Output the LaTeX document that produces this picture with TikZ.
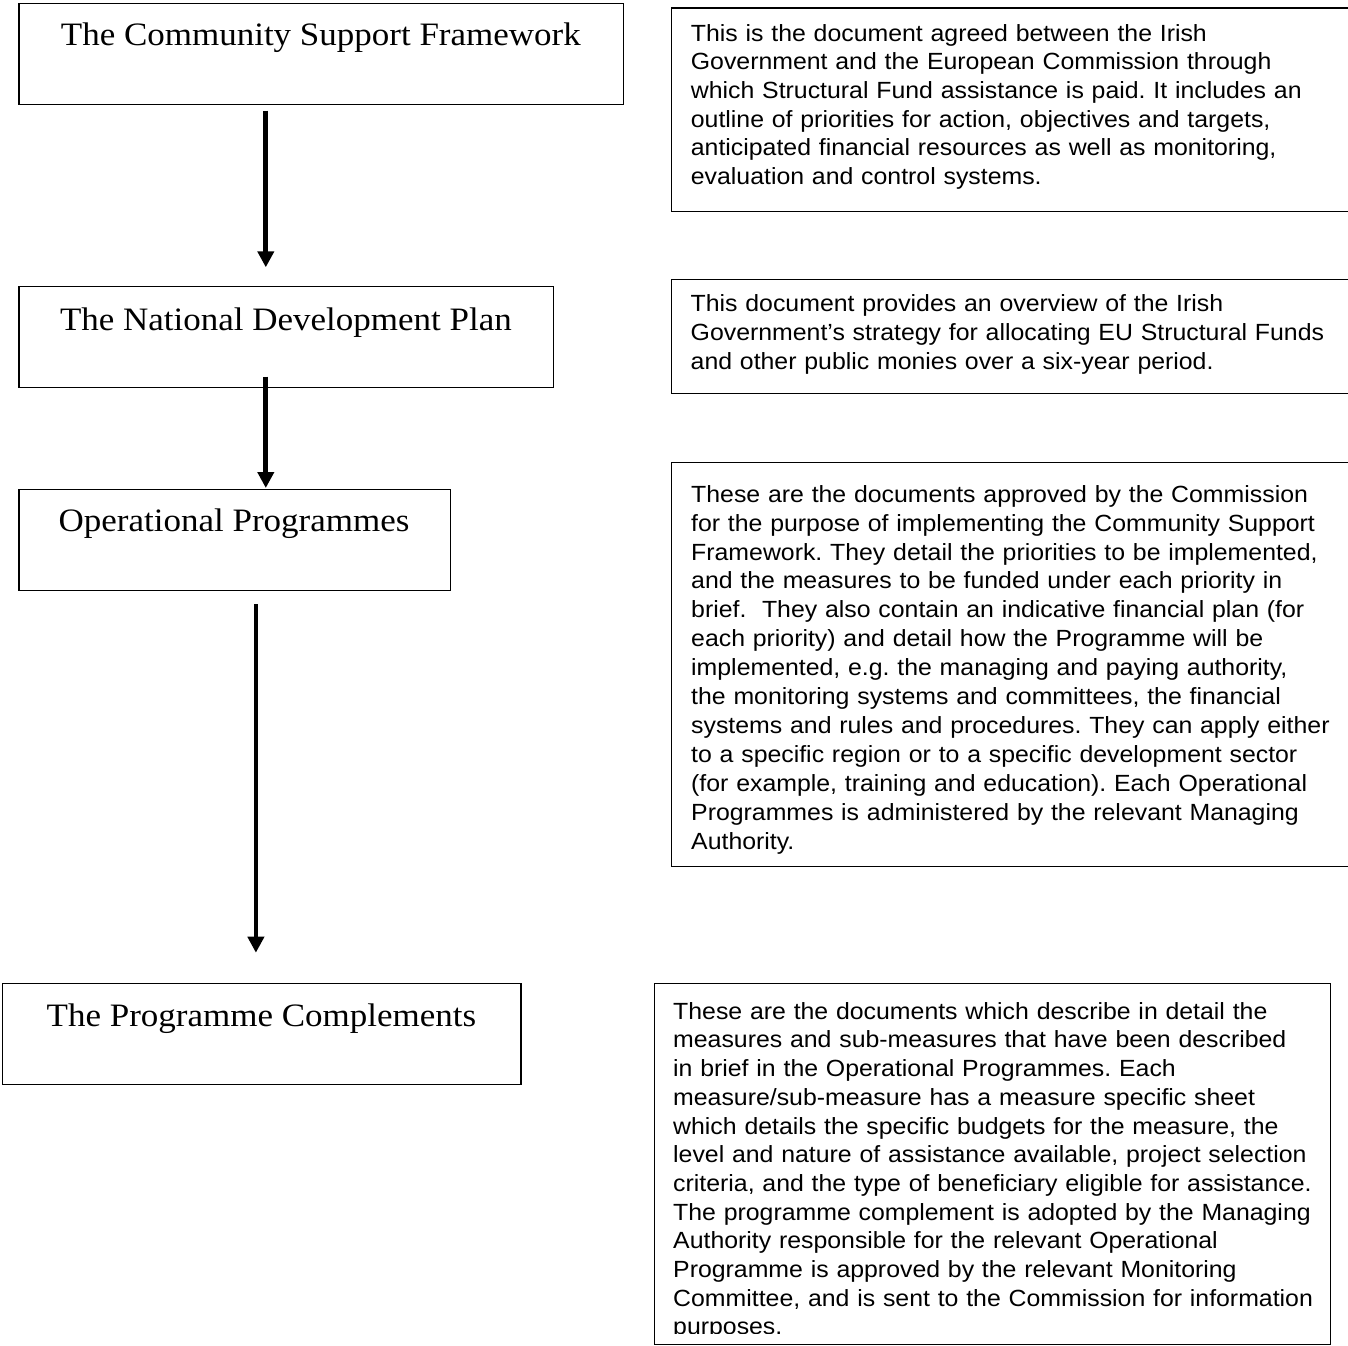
\documentclass[tikz,border=0pt]{standalone}
\usepackage{fontspec}
\setmainfont{Liberation Serif}[FakeStretch=1.07]
\newfontfamily\arialfont{Liberation Sans}[FakeStretch=1.062]
\usetikzlibrary{arrows.meta}
\frenchspacing
\begin{document}
\begin{tikzpicture}[x=1pt,y=-1pt,
  box/.style={draw, line width=1.3pt, inner sep=0pt, anchor=north west},
  title/.style={anchor=base west, inner sep=0pt, font=\fontsize{32.7}{38}\selectfont},
  desc/.style={anchor=north west, inner sep=0pt, align=left, text width=660pt,
    font=\arialfont\fontsize{23.4}{28.7}\selectfont},
  arr/.style={line width=4.7pt, -{Triangle[width=16pt,length=16pt]}}]
% left boxes
\node[box, minimum width=604.8pt, minimum height=101pt] (b1) at (18.2,2.7) {};
\node[box, minimum width=534.8pt, minimum height=101.2pt] (b2) at (18.2,285.5) {};
\node[box, minimum width=431.5pt, minimum height=101pt] (b3) at (18.2,489) {};
\node[box, minimum width=518.4pt, minimum height=101pt] (b4) at (2,983) {};
\node[title] (l1) at (60.7,45) {The Community Support Framework};
\node[title] (l2) at (59.8,330) {The National Development Plan};
\node[title] (l3) at (58.5,531.7) {Operational Programmes};
\node[title] (l4) at (46.5,1026.7) {The Programme Complements};
% arrows
\coordinate (a1s) at (265.8,110.7);
\coordinate (a2s) at (265.8,376.7);
\coordinate (a3s) at (255.9,604);
\draw[arr, shorten >=18.2pt] (a1s) -- (a1s |- b2.north);
\draw[arr, shorten >=1pt] (a2s) -- (a2s |- b3.north);
\draw[arr, shorten >=30.3pt] (a3s) -- (a3s |- b4.north);
% right boxes
\node[box, minimum width=676.5pt, minimum height=203.7pt] (r1) at (671,7.3) {};
\node[box, minimum width=676.5pt, minimum height=114pt] (r2) at (671,279) {};
\node[box, minimum width=676.5pt, minimum height=404pt] (r3) at (671,462) {};
\node[box, minimum width=676pt, minimum height=361pt] (r4) at (654,983) {};
\node[desc] (t1) at (690.7,20.8) {\rule{0pt}{20pt}This is the document agreed between the Irish\\
Government and the European Commission through\\
which Structural Fund assistance is paid. It includes an\\
outline of priorities for action, objectives and targets,\\
anticipated financial resources as well as monitoring,\\
evaluation and control systems.};
\node[desc] (t2) at (690.5,291.7) {\rule{0pt}{20pt}This document provides an overview of the Irish\\
Government’s strategy for allocating EU Structural Funds\\
and other public monies over a six-year period.};
\node[desc, font=\arialfont\fontsize{23.4}{28.9}\selectfont] (t3) at (691,482) {\rule{0pt}{20pt}These are the documents approved by the Commission\\
for the purpose of implementing the Community Support\\
Framework. They detail the priorities to be implemented,\\
and the measures to be funded under each priority in\\
brief.\ \ They also contain an indicative financial plan (for\\
each priority) and detail how the Programme will be\\
implemented, e.g.\ the managing and paying authority,\\
the monitoring systems and committees, the financial\\
systems and rules and procedures. They can apply either\\
to a specific region or to a specific development sector\\
(for example, training and education). Each Operational\\
Programmes is administered by the relevant Managing\\
Authority.};
\begin{scope}
\clip (655,984) rectangle (1329,1333.5);
\node[desc] (t4) at (673,999) {\rule{0pt}{20pt}These are the documents which describe in detail the\\
measures and sub-measures that have been described\\
in brief in the Operational Programmes. Each\\
measure/sub-measure has a measure specific sheet\\
which details the specific budgets for the measure, the\\
level and nature of assistance available, project selection\\
criteria, and the type of beneficiary eligible for assistance.\\
The programme complement is adopted by the Managing\\
Authority responsible for the relevant Operational\\
Programme is approved by the relevant Monitoring\\
Committee, and is sent to the Commission for information\\
purposes.};
\end{scope}
\pgfresetboundingbox
\useasboundingbox (0,0) rectangle (1348,1345);
\end{tikzpicture}
\end{document}
